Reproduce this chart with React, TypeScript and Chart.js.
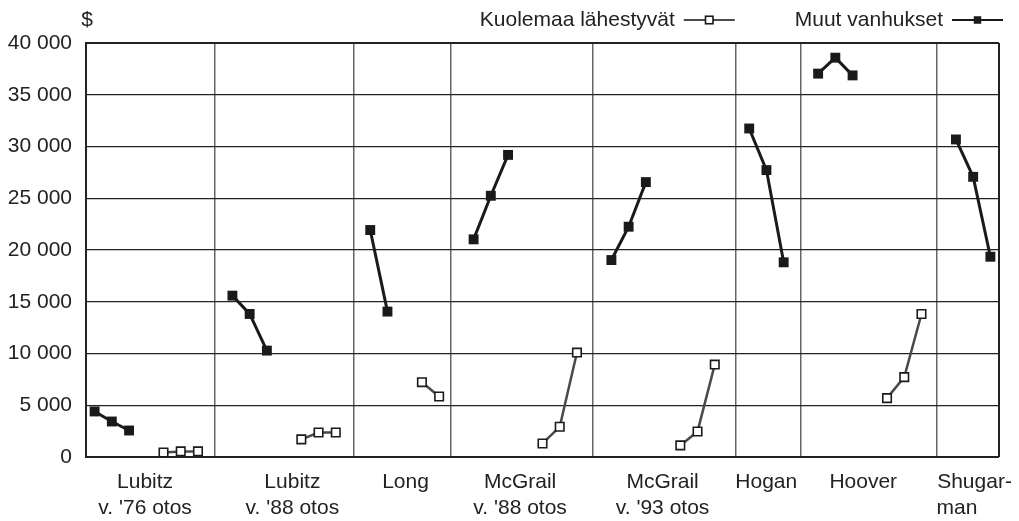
import { useEffect, useRef } from "react";
import { Chart, registerables } from "chart.js";

Chart.register(...registerables);

// ---------- data ----------
const groupLabels: (string | string[])[] = [
  ["Lubitz", "v. '76 otos"],
  ["Lubitz", "v. '88 otos"],
  "Long",
  ["McGrail", "v. '88 otos"],
  ["McGrail", "v. '93 otos"],
  "Hogan",
  "Hoover",
  ["Shugar-", "man      "],
];

const seriesNames = ["Kuolemaa lähestyvät", "Muut vanhukset"];

const muutVanhukset: number[][] = [
  [4400, 3430, 2560],
  [15590, 13820, 10280],
  [21930, 14050],
  [21030, 25240, 29190],
  [19030, 22250, 26560],
  [31740, 27720, 18810],
  [37040, 38580, 36870],
  [30680, 27070, 19350],
];

const kuolemaaLahestyvat: number[][] = [
  [440, 540, 540],
  [1700, 2370, 2370],
  [7230, 5850],
  [1310, 2920, 10090],
  [1120, 2470, 8930],
  [],
  [5690, 7720, 13820],
  [],
];

const yTicks = [0, 5000, 10000, 15000, 20000, 25000, 30000, 35000, 40000];
const yUnit = "$";

// ---------- layout (slot units on the x scale) ----------
const SEPARATORS = [7.45, 15.55, 21.15, 29.4, 37.7, 41.5, 49.4];
const LABEL_POS = [3.43, 11.98, 18.55, 25.2, 33.47, 39.49, 45.12, 51.58];
const FONT = "'Liberation Sans', Arial, Helvetica, sans-serif";
const INK = "#1a1a1a";

function buildSeries() {
  const muut: { x: number; y: number | null }[] = [];
  const kuol: { x: number; y: number | null }[] = [];
  let slot = 0;
  muutVanhukset.forEach((vals, g) => {
    vals.forEach((v) => {
      muut.push({ x: slot + 0.5, y: v });
      slot += 1;
    });
    muut.push({ x: slot + 0.5, y: null });
    const k = kuolemaaLahestyvat[g];
    if (k.length) {
      slot += 1;
      k.forEach((v) => {
        kuol.push({ x: slot + 0.5, y: v });
        slot += 1;
      });
      kuol.push({ x: slot + 0.5, y: null });
    }
    slot += 1;
  });
  return { muut, kuol, total: slot - 1 };
}

const fmt = (v: number) => String(v).replace(/\B(?=(\d{3})+(?!\d))/g, " ");

export default function App() {
  const ref = useRef<HTMLCanvasElement | null>(null);

  useEffect(() => {
    if (!ref.current) return;
    const { muut, kuol, total } = buildSeries();

    const overlay = {
      id: "overlay",
      afterDraw(chart: any) {
        const ctx = chart.ctx as CanvasRenderingContext2D;
        const a = chart.chartArea;
        ctx.save();
        ctx.font = `21px ${FONT}`;
        ctx.fillStyle = "#222";
        ctx.textBaseline = "alphabetic";
        ctx.textAlign = "center";
        ctx.fillText(yUnit, a.left + 1, 25.5);

        let x = a.right + 4;
        const ds = [...chart.data.datasets].reverse();
        for (const d of ds) {
          const end = x;
          const start = x - 51;
          const mid = (start + end) / 2;
          const ly = 20;
          ctx.beginPath();
          ctx.moveTo(start, ly);
          ctx.lineTo(end, ly);
          ctx.strokeStyle = d.borderColor;
          ctx.lineWidth = 2.2;
          ctx.stroke();
          const s = 7.5;
          ctx.fillStyle = d.pointBackgroundColor;
          ctx.fillRect(mid - s / 2, ly - s / 2, s, s);
          ctx.strokeStyle = d.pointBorderColor;
          ctx.lineWidth = d.pointBorderWidth || 1;
          if (d.pointBorderWidth) ctx.strokeRect(mid - s / 2, ly - s / 2, s, s);
          ctx.fillStyle = "#222";
          ctx.textAlign = "right";
          ctx.fillText(d.label, start - 9, 25.5);
          const w = ctx.measureText(d.label).width;
          x = start - 9 - w - 60;
        }
        ctx.restore();
      },
    };

    const chart = new Chart(ref.current, {
      type: "line",
      data: {
        datasets: [
          {
            label: seriesNames[0],
            data: kuol as any,
            borderColor: "#4a4a4a",
            borderWidth: 2.5,
            pointStyle: "rect",
            pointRadius: 6,
            pointBackgroundColor: "#ffffff",
            pointBorderColor: "#1a1a1a",
            pointBorderWidth: 1.6,
            spanGaps: false,
            xAxisID: "x",
          },
          {
            label: seriesNames[1],
            data: muut as any,
            borderColor: INK,
            borderWidth: 3,
            pointStyle: "rect",
            pointRadius: 7,
            pointBackgroundColor: INK,
            pointBorderColor: INK,
            pointBorderWidth: 0,
            spanGaps: false,
            xAxisID: "x",
          },
        ],
      },
      options: {
        responsive: false,
        animation: false,
        events: [],
        layout: { padding: { left: 0, right: 20, top: 43, bottom: 0 } },
        plugins: { legend: { display: false }, tooltip: { enabled: false }, title: { display: false } },
        scales: {
          x: {
            type: "linear",
            position: "bottom",
            min: 0,
            max: total,
            afterBuildTicks: (scale: any) => {
              scale.ticks = [...SEPARATORS, total].map((v) => ({ value: v }));
            },
            afterFit: (scale: any) => {
              scale.height = 0;
              scale.paddingLeft = 0;
              scale.paddingRight = 0;
            },
            grid: {
              drawTicks: false,
              color: (c: any) => (c.tick && c.tick.value === total ? "#222" : "#666"),
              lineWidth: (c: any) => (c.tick && c.tick.value === total ? 2 : 1.5),
            },
            border: { display: false },
            ticks: { display: false },
          },
          xl: {
            type: "linear",
            position: "bottom",
            min: 0,
            max: total,
            afterBuildTicks: (scale: any) => {
              scale.ticks = LABEL_POS.map((v) => ({ value: v }));
            },
            afterFit: (scale: any) => {
              scale.height = 64;
              scale.paddingLeft = 0;
              scale.paddingRight = 0;
            },
            grid: { display: false, drawTicks: false },
            border: { display: false },
            ticks: {
              autoSkip: false,
              maxRotation: 0,
              minRotation: 0,
              padding: 12,
              color: "#222",
              font: { family: FONT, size: 21, lineHeight: "26px" as any },
              callback: (_v: any, i: number) => groupLabels[i] as any,
            },
          },
          y: {
            min: 0,
            max: 40000,
            afterBuildTicks: (scale: any) => {
              scale.ticks = yTicks.map((v) => ({ value: v }));
            },
            afterFit: (scale: any) => {
              scale.width = 86;
            },
            grid: {
              drawTicks: false,
              color: "#222",
              lineWidth: (c: any) => (c.tick && (c.tick.value === 0 || c.tick.value === 40000) ? 2 : 1.2),
            },
            border: { display: true, color: "#222", width: 2 },
            ticks: {
              padding: 14,
              color: "#222",
              font: { family: FONT, size: 21 },
              callback: (v: any) => fmt(Number(v)),
            },
          },
        },
      },
      plugins: [overlay],
    });

    return () => chart.destroy();
  }, []);

  return (
    <div style={{ position: "absolute", left: 0, top: 0, width: 1019, height: 521, background: "#fff" }}>
      <canvas ref={ref} width={1019} height={521} />
    </div>
  );
}
